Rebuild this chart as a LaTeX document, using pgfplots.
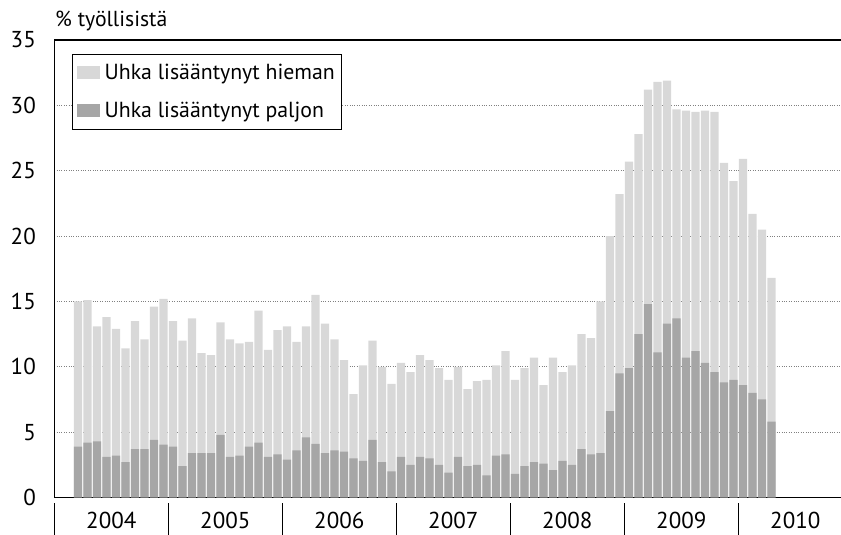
\documentclass[border=0pt]{standalone}
\usepackage{fontspec}
\setmainfont{PT Sans}
\usepackage{pgfplots}
\usepackage{pgfplotstable}
\pgfplotsset{compat=1.18}
\definecolor{lightbar}{RGB}{216,216,216}
\definecolor{darkbar}{RGB}{166,166,166}
\pgfplotstableread{
x total dark
2.5 15.0 3.9
3.5 15.1 4.2
4.5 13.1 4.3
5.5 13.8 3.1
6.5 12.9 3.2
7.5 11.4 2.7
8.5 13.5 3.7
9.5 12.1 3.7
10.5 14.6 4.4
11.5 15.2 4.05
12.5 13.5 3.9
13.5 12.0 2.4
14.5 13.7 3.4
15.5 11.05 3.4
16.5 10.9 3.4
17.5 13.4 4.8
18.5 12.1 3.1
19.5 11.8 3.2
20.5 11.9 3.9
21.5 14.3 4.2
22.5 11.3 3.1
23.5 12.8 3.3
24.5 13.1 2.9
25.5 11.9 3.6
26.5 13.1 4.6
27.5 15.5 4.1
28.5 13.3 3.4
29.5 12.1 3.6
30.5 10.5 3.5
31.5 7.9 3.0
32.5 10.1 2.8
33.5 12.0 4.4
34.5 10.0 2.7
35.5 8.7 2.0
36.5 10.3 3.1
37.5 9.6 2.5
38.5 10.9 3.1
39.5 10.5 3.0
40.5 9.9 2.5
41.5 9.0 1.9
42.5 10.0 3.1
43.5 8.3 2.4
44.5 8.9 2.5
45.5 9.0 1.7
46.5 10.1 3.2
47.5 11.2 3.3
48.5 9.0 1.8
49.5 9.9 2.4
50.5 10.7 2.7
51.5 8.6 2.6
52.5 10.7 2.1
53.5 9.6 2.8
54.5 10.1 2.5
55.5 12.5 3.7
56.5 12.2 3.3
57.5 15.0 3.4
58.5 20.0 6.6
59.5 23.2 9.5
60.5 25.7 9.9
61.5 27.8 12.5
62.5 31.2 14.8
63.5 31.8 11.1
64.5 31.9 13.3
65.5 29.7 13.7
66.5 29.6 10.7
67.5 29.5 11.2
68.5 29.6 10.3
69.5 29.5 9.6
70.5 25.6 8.8
71.5 24.2 9.0
72.5 25.9 8.6
73.5 21.7 8.0
74.5 20.5 7.5
75.5 16.8 5.8
}\datatable
\begin{document}
\begin{tikzpicture}
\useasboundingbox (-54.3pt,-37.5pt) rectangle (786.7pt,497.5pt);
\begin{axis}[
  at={(0pt,0pt)}, anchor=south west,
  scale only axis, width=786.7pt, height=457.5pt,
  xmin=0, xmax=82.81, ymin=0, ymax=35,
  clip=false,
  axis lines*=left,
  x axis line style={line width=1.6pt},
  y axis line style={line width=1.1pt},
  ytick={0,5,...,35},
  xtick={6,18,30,42,54,66,78},
  xticklabels={2004,2005,2006,2007,2008,2009,2010},
  major tick length=0pt,
  /pgf/number format/assume math mode=true,
  tick label style={font=\fontsize{23}{27}\selectfont},
  yticklabel style={anchor=east, inner sep=0pt, xshift=-18.3pt},
  xticklabel style={anchor=base, inner sep=0pt, yshift=-30.8pt},
  ymajorgrids,
  grid style={dotted, gray, line width=0.7pt},
  ybar, bar width=8.3pt, bar shift=0pt,
  legend style={at={(0.0221,0.9694)}, anchor=north west, draw=black, line width=0.9pt,
    font=\fontsize{21.8}{25}\selectfont, inner xsep=5pt, inner ysep=8pt, row sep=17pt,
    /tikz/every odd column/.append style={column sep=3pt}},
  legend cell align=left,
  legend image code/.code={\fill[#1] (0pt,-6.5pt) rectangle (22.5pt,6.5pt);},
]
\addplot[fill=lightbar, draw=none] table[x=x, y=total] {\datatable};
\addlegendentry{Uhka lisääntynyt hieman}
\addplot[fill=darkbar, draw=none] table[x=x, y=dark] {\datatable};
\addlegendentry{Uhka lisääntynyt paljon}
\draw[line width=1.1pt] (rel axis cs:0,1) -- (rel axis cs:1,1);
\pgfplotsinvokeforeach{0,12,24,36,48,60,72}{
  \draw[line width=1pt] (axis cs:#1,0) ++(0,-5.8pt) -- ++(0,-40pt);
}
\end{axis}
\node[anchor=base west, inner sep=0pt, font=\fontsize{21.7}{25}\selectfont] at (0.7pt,470.5pt) {\% työllisistä};
\end{tikzpicture}
\end{document}
